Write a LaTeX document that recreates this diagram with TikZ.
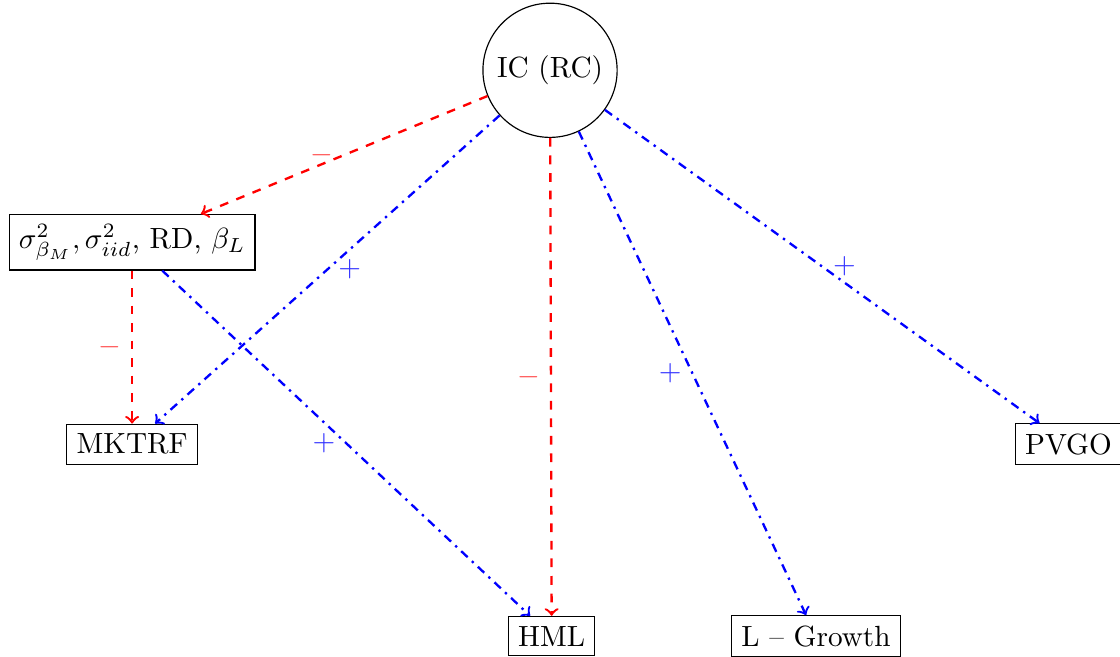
\documentclass[tikz,border=0pt]{standalone}
\usepackage{amsmath}
\begin{document}
\begin{tikzpicture}[
  box/.style={draw, rectangle},
  hub/.style={draw, circle},
  negarrow/.style={->, thick, red, dashed},
  posarrow/.style={->, thick, blue, dash dot},
  neglabel/.style={text=red!70},
  poslabel/.style={text=blue!80}
]
\useasboundingbox (0,0) rectangle (13.48,7.906);

% Central node
\node[hub] (ic) at (6.62,7.06) {IC (RC)};

% Risk measures
\node[box] (risk) at (1.59,4.99) {$\sigma^2_{\beta_M}, \sigma^2_{iid}$, RD, $\beta_L$};

% Factors
\node[box] (mktrf) at (1.59,2.56) {MKTRF};
\node[box] (pvgo) at (12.86,2.56) {PVGO};
\node[box] (hml) at (6.64,0.25) {HML};
\node[box] (lgrowth) at (9.82,0.25) {L -- Growth};

% Negative links
\draw[negarrow] (ic) -- node[neglabel, left] {$-$} (risk);
\draw[negarrow] (risk) -- node[neglabel, left] {$-$} (mktrf);
\draw[negarrow] (ic) -- node[neglabel, left] {$-$} (hml);

% Positive links
\draw[posarrow] (ic) -- node[poslabel, right] {$+$} (mktrf);
\draw[posarrow] (risk) -- node[poslabel, left] {$+$} (hml);
\draw[posarrow] (ic) -- node[poslabel, left] {$+$} (lgrowth);
\draw[posarrow] (ic) -- node[poslabel, right] {$+$} (pvgo);

\end{tikzpicture}
\end{document}
